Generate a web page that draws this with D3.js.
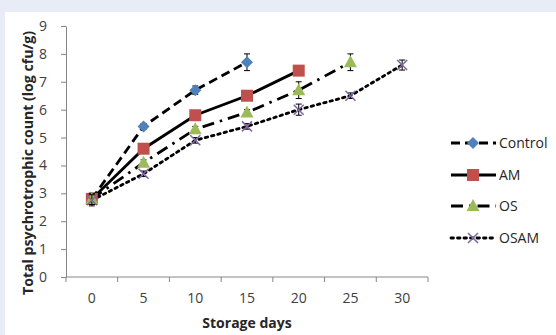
<!DOCTYPE html>
<html><head><meta charset="utf-8">
<script src="https://cdn.jsdelivr.net/npm/d3@7"></script>
<style>
html,body{margin:0;padding:0;background:#e8ecf6;}
svg{display:block;}
</style></head>
<body>
<svg id="chart" width="556" height="335"></svg>
<script>
const days = [0, 5, 10, 15, 20, 25, 30];
const yTicks = [0, 1, 2, 3, 4, 5, 6, 7, 8, 9];
const seriesNames = ["Control", "AM", "OS", "OSAM"];
const controlValues = [2.8, 5.4, 6.7, 7.7];
const controlErrors = [0.2, 0.1, 0.15, 0.3];
const amValues = [2.8, 4.6, 5.8, 6.5, 7.4];
const amErrors = [0.2, 0.1, 0.1, 0.1, 0.1];
const osValues = [2.8, 4.1, 5.3, 5.9, 6.7, 7.7];
const osErrors = [0.2, 0.1, 0.1, 0.1, 0.3, 0.3];
const osamValues = [2.75, 3.7, 4.9, 5.4, 6.0, 6.5, 7.6];
const osamErrors = [0.2, 0.1, 0.1, 0.1, 0.2, 0.1, 0.18];

const series = [
  {name: "Control", values: controlValues, errors: controlErrors, dash: "9,5", marker: "diamond", color: "#4f81bd"},
  {name: "AM", values: amValues, errors: amErrors, dash: null, marker: "square", color: "#c0504d"},
  {name: "OS", values: osValues, errors: osErrors, dash: "12,6,2.5,6", marker: "triangle", color: "#9bbb59"},
  {name: "OSAM", values: osamValues, errors: osamErrors, dash: "2.5,4", marker: "x", color: "#8064a2"}
];

const svg = d3.select("#chart");
svg.append("rect").attr("x", 5).attr("y", 12).attr("width", 551).attr("height", 323).attr("fill", "#ffffff");

const mLeft = 66, mRight = 428, mTop = 26, mBottom = 277;
const x = d3.scaleBand().domain(days).range([mLeft, mRight]);
const y = d3.scaleLinear().domain([0, 9]).range([mBottom, mTop]);
const font = "'Open Sans', 'Liberation Sans', sans-serif";

// Y axis
const yAxis = svg.append("g").attr("transform", `translate(${mLeft},0)`)
  .call(d3.axisLeft(y).tickValues(yTicks).tickSize(5).tickSizeOuter(0).tickPadding(14));
yAxis.select(".domain").attr("stroke", "#868686");
yAxis.selectAll(".tick line").attr("stroke", "#868686");
yAxis.selectAll("text").attr("font-family", font).attr("font-size", 14).attr("fill", "#404040");

// X axis
const xAxis = svg.append("g").attr("transform", `translate(0,${mBottom})`);
xAxis.append("line").attr("x1", mLeft).attr("x2", mRight).attr("y1", 0).attr("y2", 0).attr("stroke", "#868686");
const boundaries = days.map(d => x(d)).concat([mRight]);
xAxis.selectAll("line.tk").data(boundaries).enter().append("line").attr("class", "tk")
  .attr("x1", d => d).attr("x2", d => d).attr("y1", 0).attr("y2", 5).attr("stroke", "#868686");
xAxis.selectAll("text").data(days).enter().append("text")
  .attr("x", d => x(d) + x.bandwidth() / 2).attr("y", 26)
  .attr("text-anchor", "middle").attr("font-family", font).attr("font-size", 14).attr("fill", "#404040")
  .text(d => d);

// Axis titles
svg.append("text").attr("x", 247).attr("y", 328).attr("text-anchor", "middle")
  .attr("font-family", font).attr("font-size", 14).attr("font-weight", "bold").attr("fill", "#262626")
  .text("Storage days");
svg.append("text").attr("transform", `translate(33,163) rotate(-90)`).attr("text-anchor", "middle")
  .attr("font-family", font).attr("font-size", 14).attr("font-weight", "bold").attr("fill", "#262626")
  .attr("textLength", 264).attr("lengthAdjust", "spacingAndGlyphs")
  .text("Total psychrotrophic count (log cfu/g)");

const cx = i => x(days[i]) + x.bandwidth() / 2;

function drawMarker(g, type, color, px, py) {
  if (type === "diamond") {
    g.append("path").attr("d", `M${px},${py - 6}L${px + 6},${py}L${px},${py + 6}L${px - 6},${py}Z`).attr("fill", color);
  } else if (type === "square") {
    g.append("rect").attr("x", px - 6).attr("y", py - 6).attr("width", 12).attr("height", 12).attr("fill", color);
  } else if (type === "triangle") {
    g.append("path").attr("d", `M${px},${py - 7}L${px + 6.5},${py + 5}L${px - 6.5},${py + 5}Z`).attr("fill", color);
  } else {
    g.append("path").attr("d", `M${px - 5},${py - 5}L${px + 5},${py + 5}M${px - 5},${py + 5}L${px + 5},${py - 5}`)
      .attr("stroke", color).attr("stroke-width", 1.5).attr("fill", "none");
  }
}

const line = d3.line().x((d, i) => cx(i)).y(d => y(d));

series.forEach(s => {
  const g = svg.append("g");
  g.append("path").datum(s.values).attr("d", line).attr("fill", "none").attr("stroke", "#000")
    .attr("stroke-width", 2.8).attr("stroke-dasharray", s.dash)
    .attr("stroke-linecap", s.name === "OSAM" ? "round" : "butt");
});
series.forEach(s => {
  const g = svg.append("g");
  s.values.forEach((v, i) => {
    const e = s.errors[i];
    const px = cx(i);
    g.append("path").attr("d", `M${px},${y(v + e)}V${y(v - e)}M${px - 3},${y(v + e)}H${px + 3}M${px - 3},${y(v - e)}H${px + 3}`)
      .attr("stroke", "#000").attr("stroke-width", 1).attr("fill", "none");
  });
  s.values.forEach((v, i) => {
    drawMarker(g, s.marker, s.color, cx(i), y(v));
  });
});

// Legend
const legY = [143, 175, 206, 238];
series.forEach((s, k) => {
  const g = svg.append("g");
  const ly = legY[k];
  g.append("line").attr("x1", 451).attr("x2", 496).attr("y1", ly).attr("y2", ly)
    .attr("stroke", "#000").attr("stroke-width", 2.8).attr("stroke-dasharray", s.dash)
    .attr("stroke-linecap", s.name === "OSAM" ? "round" : "butt");
  drawMarker(g, s.marker, s.color, 473, ly);
  g.append("text").attr("x", 499).attr("y", ly + 5).attr("font-family", font).attr("font-size", 14)
    .attr("fill", "#262626").text(s.name);
});
</script>
</body></html>
